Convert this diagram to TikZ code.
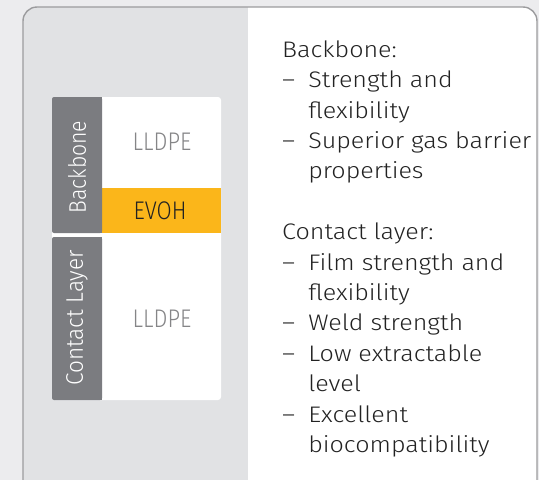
\documentclass[tikz,border=0pt]{standalone}
\usepackage{fontspec}
\setmainfont{Fira Sans}[UprightFont=* Light]
\definecolor{outerbg}{HTML}{ECECEE}
\definecolor{panelgray}{HTML}{E1E2E4}
\definecolor{framegray}{HTML}{9C9C9E}
\definecolor{tabgray}{HTML}{7B7C80}
\definecolor{evoh}{HTML}{FBB61A}
\definecolor{lltext}{HTML}{858587}
\definecolor{bodytext}{HTML}{222222}
\tikzset{
  tabtext/.style={text=white, font=\fontsize{24}{26}\selectfont, rotate=90, inner sep=0pt},
  layertext/.style={font=\fontsize{25.5}{28}\selectfont, inner sep=0pt},
}
\newcommand{\bul}{\makebox[23.4pt][l]{–}}
\newcommand{\ind}{\hspace*{23.4pt}}
\begin{document}
\begin{tikzpicture}[x=1pt,y=-1pt]
\useasboundingbox (0,0) rectangle (539,480);
\fill[outerbg] (0,0) rectangle (539,480);
% frame
\begin{scope}
\clip (0,0) rectangle (539,480);
\begin{scope}
\clip[rounded corners=14pt] (23,7) rectangle (537,500);
\fill[white] (23,7) rectangle (537,500);
\fill[panelgray] (23,7) rectangle (248,500);
\end{scope}
\draw[framegray, line width=1.4pt, rounded corners=14pt] (23,7) rectangle (537,500);
\end{scope}
% layer stack
\fill[white, rounded corners=3pt] (52,97) rectangle (221,400);
\fill[evoh] (102,188) rectangle (221,233);
\fill[tabgray, rounded corners=2pt] (52,97) rectangle (102,233);
\fill[tabgray, rounded corners=2pt] (52,237) rectangle (102,400);
\fill[tabgray] (90,97) rectangle (102,233);
\fill[tabgray] (90,237) rectangle (102,400);
\node[tabtext] (tabA) at (77,167) {\scalebox{0.885}[1]{Backbone}};
\node[tabtext] (tabB) at (77,318) {\scalebox{0.94}[1]{Contact Layer}};
\node[layertext, text=lltext] (l1) at (162,142) {\scalebox{0.86}[1]{LLDPE}};
\node[layertext, text=bodytext] (l2) at (160,211) {\scalebox{0.86}[1]{EVOH}};
\node[layertext, text=lltext] (l3) at (162,319) {\scalebox{0.86}[1]{LLDPE}};
% text
\begin{scope}[shift={(282,40.3)}, xscale=1.115]
\node[anchor=north west, inner sep=0pt, align=left, text=bodytext, transform shape,
      font=\fontsize{22.5}{30.4}\selectfont] (txt) at (0,0) {%
Backbone:\\
\bul Strength and\\
\ind flexibility\\
\bul Superior gas barrier\\
\ind properties\\[30.4pt]
Contact layer:\\
\bul Film strength and\\
\ind flexibility\\
\bul Weld strength\\
\bul Low extractable\\
\ind level\\
\bul Excellent\\
\ind biocompatibility};
\end{scope}
\end{tikzpicture}
\end{document}
